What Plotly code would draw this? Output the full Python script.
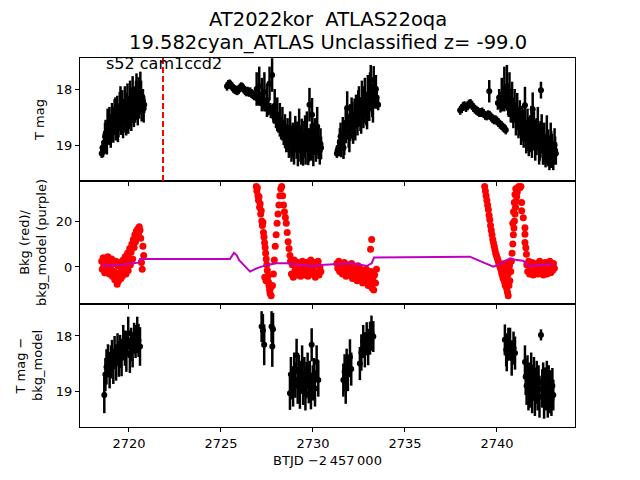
import plotly.graph_objects as go
from plotly.subplots import make_subplots

# ---------------- top panel: T mag (black points with error bars) ----------------
top_t_a = [2718.52, 2718.59, 2718.66, 2718.73, 2718.80, 2718.87, 2718.94, 2719.01, 2719.08, 2719.15,
           2719.22, 2719.29, 2719.36, 2719.43, 2719.50, 2719.57, 2719.64, 2719.71, 2719.78, 2719.85,
           2719.92, 2719.99, 2720.06, 2720.13, 2720.20, 2720.27, 2720.34, 2720.41, 2720.48, 2720.55,
           2720.62, 2720.69, 2720.76, 2720.83,
           2718.56, 2718.70, 2718.84, 2718.98, 2719.12, 2719.26, 2719.40, 2719.54, 2719.68, 2719.82,
           2719.96, 2720.10, 2720.24, 2720.38, 2720.52, 2720.66, 2720.80]
top_m_a = [19.15, 19.12, 18.95, 18.80, 18.95, 18.70, 18.62, 18.80, 18.55, 18.68,
           18.50, 18.62, 18.45, 18.58, 18.40, 18.52, 18.35, 18.48, 18.30, 18.55,
           18.25, 18.42, 18.20, 18.45, 18.15, 18.38, 18.28, 18.10, 18.35, 18.20,
           18.05, 18.30, 18.22, 18.28,
           19.05, 18.85, 18.65, 18.72, 18.62, 18.48, 18.65, 18.30, 18.58, 18.40,
           18.50, 18.32, 18.28, 18.20, 18.12, 18.15, 18.35]
top_e_a = [0.08, 0.10, 0.20, 0.25, 0.22, 0.28, 0.30, 0.25, 0.30, 0.28,
           0.32, 0.30, 0.33, 0.28, 0.35, 0.30, 0.33, 0.30, 0.35, 0.28,
           0.35, 0.30, 0.35, 0.30, 0.38, 0.30, 0.32, 0.38, 0.30, 0.33,
           0.36, 0.28, 0.22, 0.15,
           0.12, 0.25, 0.30, 0.28, 0.30, 0.33, 0.30, 0.35, 0.30, 0.33,
           0.30, 0.35, 0.33, 0.35, 0.33, 0.30, 0.25]

top_t_b = [2725.33, 2725.40, 2725.47, 2725.54, 2725.61, 2725.68, 2725.75, 2725.82, 2725.89, 2725.96,
           2726.03, 2726.10, 2726.17, 2726.24, 2726.31, 2726.38, 2726.45, 2726.52, 2726.59, 2726.66,
           2726.73, 2726.80,
           2726.87, 2726.94, 2727.01, 2727.08, 2727.15, 2727.22, 2727.29, 2727.36, 2727.43, 2727.50,
           2727.57, 2727.64, 2727.71, 2727.78, 2727.85, 2727.92, 2727.99, 2728.06, 2728.13, 2728.20,
           2728.27, 2728.34, 2728.41, 2728.48, 2728.55, 2728.62, 2728.69, 2728.76, 2728.83, 2728.90,
           2728.97, 2729.04, 2729.11, 2729.18, 2729.25, 2729.32, 2729.39, 2729.46, 2729.53, 2729.60,
           2729.67, 2729.74, 2729.81, 2729.88, 2729.95, 2730.02, 2730.09, 2730.16, 2730.23, 2730.30,
           2730.37, 2730.44,
           2727.05, 2727.26, 2727.47, 2727.68, 2727.89, 2728.10, 2728.31, 2728.52, 2728.73, 2728.94,
           2729.15, 2729.36, 2729.57, 2729.78, 2729.99, 2730.20, 2730.41]
top_m_b = [17.95, 17.92, 17.91, 17.93, 17.96, 17.99, 18.01, 18.02, 18.03, 18.01,
           17.98, 17.96, 17.97, 18.00, 18.03, 18.05, 18.04, 18.06, 18.05, 18.08,
           18.10, 18.12,
           18.12, 18.00, 18.18, 17.95, 18.22, 18.10, 18.25, 18.05, 18.30, 18.20,
           18.35, 17.90, 18.40, 17.75, 18.45, 18.30, 18.55, 18.45, 18.60, 18.55,
           18.70, 18.62, 18.78, 18.75, 18.88, 18.82, 18.95, 18.70, 19.00, 18.90,
           19.05, 18.80, 18.95, 19.10, 18.70, 19.00, 18.85, 19.12, 18.90, 19.05,
           18.75, 19.08, 18.28, 18.95, 18.46, 19.10, 18.85, 19.00, 18.67, 18.95,
           19.10, 19.05,
           18.15, 18.20, 18.28, 18.35, 18.50, 18.62, 18.72, 18.85, 18.92, 18.95,
           18.90, 19.05, 18.80, 19.00, 18.92, 18.85, 18.98]
top_e_b = [0.08, 0.08, 0.08, 0.08, 0.08, 0.08, 0.08, 0.08, 0.08, 0.08,
           0.08, 0.08, 0.08, 0.08, 0.08, 0.08, 0.08, 0.08, 0.08, 0.08,
           0.08, 0.08,
           0.08, 0.30, 0.08, 0.35, 0.08, 0.30, 0.10, 0.35, 0.10, 0.30,
           0.12, 0.30, 0.12, 0.30, 0.15, 0.30, 0.15, 0.30, 0.18, 0.30,
           0.20, 0.30, 0.22, 0.30, 0.25, 0.30, 0.28, 0.30, 0.30, 0.30,
           0.30, 0.32, 0.30, 0.28, 0.35, 0.30, 0.32, 0.25, 0.33, 0.30,
           0.35, 0.28, 0.30, 0.33, 0.30, 0.28, 0.33, 0.30, 0.35, 0.30,
           0.25, 0.20,
           0.08, 0.08, 0.10, 0.10, 0.12, 0.15, 0.18, 0.22, 0.28, 0.30,
           0.32, 0.30, 0.33, 0.30, 0.32, 0.33, 0.28]

top_t_c = [2731.30, 2731.38, 2731.46, 2731.54, 2731.62, 2731.70, 2731.78, 2731.86, 2731.94, 2732.02,
           2732.10, 2732.18, 2732.26, 2732.34, 2732.42, 2732.50, 2732.58, 2732.66, 2732.74, 2732.82,
           2732.90, 2732.98, 2733.06, 2733.14, 2733.22, 2733.30, 2733.38, 2733.46, 2733.54,
           2731.34, 2731.50, 2731.66, 2731.82, 2731.98, 2732.14, 2732.30, 2732.46, 2732.62, 2732.78,
           2732.94, 2733.10, 2733.26, 2733.42]
top_m_c = [19.15, 19.05, 18.95, 19.00, 18.80, 18.90, 18.65, 18.34, 18.75, 18.60,
           18.45, 18.70, 18.50, 18.40, 18.55, 18.30, 18.45, 18.20, 18.40, 18.15,
           18.35, 18.10, 18.25, 17.95, 18.20, 17.84, 18.05, 18.15, 18.28,
           19.10, 18.85, 19.05, 18.60, 18.85, 18.55, 18.62, 18.35, 18.50, 18.28,
           18.42, 18.05, 18.30, 18.00]
top_e_c = [0.08, 0.15, 0.25, 0.22, 0.30, 0.28, 0.32, 0.30, 0.30, 0.33,
           0.30, 0.28, 0.33, 0.30, 0.28, 0.35, 0.30, 0.35, 0.30, 0.35,
           0.30, 0.35, 0.32, 0.38, 0.30, 0.25, 0.30, 0.20, 0.10,
           0.10, 0.25, 0.20, 0.30, 0.28, 0.32, 0.30, 0.33, 0.30, 0.33,
           0.30, 0.35, 0.30, 0.25]

top_t_d = [2738.00, 2738.08, 2738.16, 2738.24, 2738.32, 2738.40, 2738.48, 2738.56, 2738.64, 2738.72,
           2738.80, 2738.88, 2738.96, 2739.04, 2739.12, 2739.20, 2739.28, 2739.36, 2739.44, 2739.52,
           2739.60, 2739.68, 2739.76, 2739.84, 2739.92, 2740.00, 2740.08, 2740.16, 2740.24, 2740.32,
           2740.40, 2740.48]
top_m_d = [18.38, 18.35, 18.31, 18.30, 18.33, 18.30, 18.27, 18.26, 18.29, 18.33,
           18.36, 18.38, 18.40, 18.42, 18.42, 18.41, 18.44, 18.47, 18.48, 18.46,
           18.47, 18.50, 18.53, 18.55, 18.55, 18.57, 18.60, 18.63, 18.65, 18.68,
           18.70, 18.73]
top_e_d = [0.08, 0.08, 0.08, 0.08, 0.08, 0.08, 0.08, 0.08, 0.08, 0.08,
           0.08, 0.08, 0.08, 0.08, 0.08, 0.08, 0.08, 0.08, 0.08, 0.08,
           0.08, 0.08, 0.08, 0.08, 0.08, 0.08, 0.08, 0.08, 0.08, 0.08,
           0.08, 0.08]

top_t_e = [2740.05, 2740.12, 2740.19, 2740.26, 2740.33, 2740.40, 2740.47, 2740.54, 2740.61, 2740.68,
           2740.75, 2740.82, 2740.89, 2740.96, 2741.03, 2741.10, 2741.17, 2741.24, 2741.31, 2741.38,
           2741.45, 2741.52, 2741.59, 2741.66, 2741.73, 2741.80, 2741.87, 2741.94, 2742.01, 2742.08,
           2742.15, 2742.22, 2742.29, 2742.36, 2742.43, 2742.50, 2742.57, 2742.64, 2742.71, 2742.78,
           2742.85, 2742.92, 2742.99, 2743.06, 2743.13, 2743.20,
           2740.64, 2740.85, 2741.06, 2741.27, 2741.48, 2741.69, 2741.90, 2742.11, 2742.32, 2742.53,
           2742.74, 2742.95, 2743.16]
top_m_e = [18.25, 18.15, 18.30, 18.10, 18.20, 18.00, 18.15, 17.95, 18.25, 18.05,
           18.35, 18.20, 18.45, 18.30, 18.55, 18.40, 18.60, 18.50, 18.70, 18.62,
           18.75, 18.29, 18.85, 18.70, 18.90, 18.80, 18.65, 18.36, 18.75, 19.00,
           18.85, 18.70, 19.05, 18.90, 18.80, 19.05, 18.95, 19.10, 18.85, 19.05,
           19.15, 18.95, 19.10, 19.20, 19.00, 19.15,
           18.35, 18.40, 18.50, 18.58, 18.65, 18.80, 18.90, 18.85, 18.95, 19.00,
           19.05, 19.08, 19.10]
top_e_e = [0.12, 0.15, 0.12, 0.30, 0.18, 0.40, 0.20, 0.38, 0.22, 0.35,
           0.25, 0.33, 0.25, 0.30, 0.28, 0.33, 0.28, 0.30, 0.30, 0.32,
           0.30, 0.33, 0.30, 0.35, 0.30, 0.33, 0.35, 0.30, 0.35, 0.28,
           0.33, 0.38, 0.30, 0.33, 0.35, 0.30, 0.35, 0.30, 0.38, 0.33,
           0.30, 0.35, 0.30, 0.25, 0.30, 0.20,
           0.15, 0.20, 0.22, 0.25, 0.28, 0.30, 0.33, 0.30, 0.33, 0.35,
           0.30, 0.33, 0.25]

top_t_out = [2739.58, 2742.39]
top_m_out = [18.04, 18.02]
top_e_out = [0.20, 0.15]

# ---------------- middle panel: background (red) and model (purple) ----------------
bkg_t_1 = [2718.52, 2718.55, 2718.60, 2718.63, 2718.68, 2718.72, 2718.76, 2718.80, 2718.85, 2718.88,
           2718.93, 2718.97, 2719.02, 2719.06, 2719.10, 2719.15, 2719.19, 2719.23, 2719.28, 2719.32,
           2719.36, 2719.40, 2719.44, 2719.48, 2719.52, 2719.56, 2719.60, 2719.64, 2719.68, 2719.72,
           2719.76, 2719.80, 2719.84, 2719.88, 2719.92, 2719.96, 2720.00, 2720.04, 2720.08, 2720.12,
           2720.16, 2720.20, 2720.24, 2720.28, 2720.32, 2720.36, 2720.40, 2720.44, 2720.48, 2720.52,
           2720.56, 2720.60, 2720.64, 2720.68, 2720.72, 2720.76, 2720.80]
bkg_v_1 = [2.5, -1.0, 4.0, 0.5, -2.5, 3.0, 1.0, -1.5, 4.5, 0.0,
           -3.0, 2.0, -1.0, 3.5, -4.0, 1.5, -2.0, -5.5, 2.5, -3.5,
           -7.5, 0.5, -6.0, -2.5, 2.0, -5.0, -1.0, -4.0, 3.0, -2.0,
           0.5, 4.5, -3.0, 2.5, 6.0, -1.5, 4.0, 8.0, 1.0, 6.5,
           10.0, 3.5, 12.0, 8.5, 14.0, 11.0, 15.5, 13.0, 16.5, 14.5,
           17.5, 16.0, 12.5, 2.0, -1.0, 9.0, 5.0]

bkg_t_2 = [2726.92, 2726.95, 2726.98, 2727.01, 2727.04, 2727.07, 2727.10, 2727.13, 2727.16, 2727.19,
           2727.22, 2727.25, 2727.28, 2727.31, 2727.34, 2727.37, 2727.40, 2727.43, 2727.46, 2727.49,
           2727.52, 2727.55, 2727.58, 2727.61, 2727.64, 2727.67, 2727.70, 2727.73, 2727.38, 2727.45,
           2727.80, 2727.85, 2727.90, 2727.95, 2728.00, 2728.05, 2728.10, 2728.15, 2728.20, 2728.25,
           2728.30, 2728.35, 2728.40, 2728.45, 2728.50, 2728.55, 2728.60, 2728.65, 2728.70, 2728.75,
           2728.78, 2728.83, 2728.88, 2728.93, 2728.98, 2729.03, 2729.08, 2729.13, 2729.18, 2729.23,
           2729.28, 2729.33, 2729.38, 2729.43, 2729.48, 2729.53, 2729.58, 2729.63, 2729.68, 2729.73,
           2729.78, 2729.83, 2729.88, 2729.93, 2729.98, 2730.03, 2730.08, 2730.13, 2730.18, 2730.23,
           2730.28, 2730.33, 2730.38, 2730.43]
bkg_v_2 = [35.0, 33.0, 34.5, 31.0, 29.0, 30.5, 26.0, 27.5, 23.0, 24.5,
           20.0, 18.0, 19.5, 15.0, 13.0, 10.5, 8.5, 6.0, 3.5, 1.0,
           -1.5, -4.0, -6.5, -8.0, -10.0, -11.5, -9.0, -12.5, -4.5, -6.0,
           -8.0, -3.0, 3.0, 9.0, 14.0, 19.0, 23.0, 27.0, 31.0, 34.0,
           35.0, 31.0, 27.0, 24.0, 21.5, 19.0, 15.0, 11.0, 8.0, 5.0,
           2.5, -3.0, 1.0, -4.5, 3.0, -1.5, 0.5, -3.5, 2.0, -2.0,
           1.5, -4.0, 0.0, 2.5, -2.5, 1.0, -3.5, 2.0, -1.0, -4.0,
           1.5, -2.0, 3.0, -3.0, 0.5, -1.5, 2.0, -4.5, 1.0, -2.5,
           2.5, -3.5, 0.0, -2.0]

bkg_t_3 = [2731.30, 2731.35, 2731.40, 2731.45, 2731.50, 2731.55, 2731.60, 2731.65, 2731.70, 2731.75,
           2731.80, 2731.85, 2731.90, 2731.95, 2732.00, 2732.05, 2732.10, 2732.15, 2732.20, 2732.25,
           2732.30, 2732.35, 2732.40, 2732.45, 2732.50, 2732.55, 2732.60, 2732.65, 2732.70, 2732.75,
           2732.80, 2732.85, 2732.90, 2732.95, 2733.00, 2733.05, 2733.10, 2733.15, 2733.20, 2733.25,
           2733.30, 2733.35, 2733.40, 2733.45, 2733.13, 2733.19]
bkg_v_3 = [1.5, -0.5, 2.5, -2.0, 0.5, 1.5, -3.0, 0.0, 2.0, -1.5,
           -4.0, 1.0, -2.5, 0.5, -3.5, -1.0, 1.5, -5.0, -2.0, 0.0,
           -4.0, -1.5, -6.0, 0.5, -3.0, -5.5, -1.0, -4.5, -7.0, -2.0,
           -3.5, -6.0, -1.0, -4.5, -8.0, -3.0, -6.5, -2.0, -9.0, -5.0,
           -10.0, -3.5, -7.0, -1.0, 7.7, 12.0]

bkg_t_4 = [2739.33, 2739.37, 2739.41, 2739.45, 2739.49, 2739.53, 2739.57, 2739.61, 2739.65, 2739.69,
           2739.73, 2739.77, 2739.81, 2739.85, 2739.89, 2739.93, 2739.97, 2740.01, 2740.05, 2740.09,
           2740.13, 2740.17, 2740.21, 2740.25, 2740.29, 2740.33, 2740.37, 2740.41, 2740.45, 2740.49,
           2740.53, 2740.57, 2740.61, 2740.55, 2740.45, 2740.40, 2740.50, 2740.60, 2740.65, 2740.70,
           2740.75, 2740.68, 2740.58,
           2740.78, 2740.82, 2740.86, 2740.89, 2740.92, 2740.95, 2740.98, 2741.01, 2741.04, 2741.07,
           2741.10, 2741.13, 2741.18, 2741.24, 2741.30, 2740.86, 2740.90, 2740.94, 2740.98, 2741.02,
           2741.34, 2741.34, 2741.43, 2741.52, 2741.52, 2741.52, 2741.57, 2741.60,
           2741.62, 2741.67, 2741.72, 2741.77, 2741.82, 2741.87, 2741.92, 2741.97, 2742.02, 2742.07,
           2742.12, 2742.17, 2742.22, 2742.27, 2742.32, 2742.37, 2742.42, 2742.47, 2742.52, 2742.57,
           2742.62, 2742.67, 2742.72, 2742.77, 2742.82, 2742.87, 2742.92, 2742.97, 2743.02, 2743.07,
           2743.12]
bkg_v_4 = [35.0, 33.0, 31.0, 29.0, 27.0, 25.0, 22.5, 20.5, 18.0, 16.0,
           14.0, 12.0, 10.5, 9.0, 7.5, 6.0, 5.0, 4.0, 3.0, 2.0,
           1.0, 0.0, -1.0, -2.5, -3.5, -5.0, -4.0, -6.5, -8.0, -7.0,
           -9.5, -11.0, -12.5, -5.0, -2.0, 1.5, -1.0, -3.0, -8.0, -6.0,
           -2.0, 0.5, 2.0,
           2.5, 6.0, 10.0, 14.0, 17.0, 20.0, 23.0, 26.0, 28.5, 30.5,
           32.5, 34.5, 35.0, 34.5, 35.0, 19.0, 24.0, 28.0, 31.5, 34.0,
           28.0, 24.5, 21.4, 17.1, 14.2, 10.6, 8.4, 5.5,
           1.0, -2.0, 2.5, -3.0, 0.0, -1.5, 2.0, -3.5, 1.0, -0.5,
           -2.5, 1.5, -3.0, 0.5, 2.5, -2.0, -1.0, 1.5, -3.5, 0.0,
           2.0, -1.5, -3.0, 1.0, -0.5, 2.5, -2.5, 0.5, -1.5, 1.5,
           -0.5]

model_t = [2718.52, 2719.51, 2720.23, 2720.51, 2720.60, 2725.49, 2725.71, 2725.85, 2725.99, 2726.30,
           2726.58, 2726.94, 2727.48, 2728.03, 2728.57, 2729.29, 2730.02, 2730.38, 2731.29, 2732.19,
           2732.92, 2733.19, 2733.32, 2738.26, 2738.53, 2738.80, 2739.35, 2739.80, 2740.25, 2740.71,
           2741.07, 2741.43, 2741.70, 2742.34, 2743.06]
model_v = [0.4, 0.9, 1.6, 1.9, 3.5, 3.5, 6.2, 5.2, 3.0, 0.4,
           -2.0, -0.6, 0.9, 1.6, 1.6, 0.9, 0.4, 0.9, 1.3, 1.6,
           0.4, 1.6, 4.1, 4.2, 4.5, 3.5, 1.6, 0.1, 1.6, 3.8,
           3.0, 2.7, 0.4, 0.9, 1.3]

# ---------------- bottom panel: T mag - bkg_model ----------------
sub_t_1 = [2718.66, 2718.72, 2718.78, 2718.86, 2718.95, 2719.02, 2719.08, 2719.15, 2719.22, 2719.30,
           2719.38, 2719.45, 2719.52, 2719.60, 2719.69, 2719.78, 2719.86, 2719.96, 2720.05, 2720.12,
           2720.20, 2720.28, 2720.36, 2720.45, 2720.52, 2720.60]
sub_m_1 = [19.07, 18.70, 18.56, 18.45, 18.62, 18.47, 18.35, 18.55, 18.30, 18.48,
           18.25, 18.42, 18.28, 18.40, 18.10, 18.22, 18.30, 17.95, 18.35, 18.15,
           18.25, 18.04, 18.10, 17.98, 18.08, 18.19]
sub_e_1 = [0.33, 0.30, 0.32, 0.30, 0.33, 0.30, 0.28, 0.32, 0.30, 0.33,
           0.30, 0.32, 0.30, 0.33, 0.30, 0.32, 0.35, 0.30, 0.32, 0.30,
           0.32, 0.28, 0.30, 0.33, 0.30, 0.35]

sub_t_2 = [2727.21, 2727.28, 2727.35, 2727.75, 2727.79, 2727.83]
sub_m_2 = [17.83, 17.90, 18.16, 17.83, 18.19, 17.88]
sub_e_2 = [0.28, 0.30, 0.37, 0.28, 0.37, 0.30]

sub_t_3 = [2728.75, 2728.80, 2728.86, 2728.92, 2728.98, 2729.04, 2729.11, 2729.17, 2729.23, 2729.29,
           2729.35, 2729.41, 2729.47, 2729.53, 2729.59, 2729.65, 2729.71, 2729.77, 2729.83, 2729.89,
           2729.93, 2729.99, 2730.05, 2730.11, 2730.20, 2730.29]
sub_m_3 = [19.04, 18.70, 18.85, 18.95, 18.60, 18.80, 18.35, 18.90, 18.65, 19.00,
           18.75, 18.50, 18.95, 18.70, 19.05, 18.80, 18.60, 18.90, 18.75, 19.00,
           18.16, 18.85, 18.70, 18.95, 18.47, 18.80]
sub_e_3 = [0.30, 0.32, 0.30, 0.33, 0.30, 0.32, 0.30, 0.33, 0.30, 0.32,
           0.30, 0.33, 0.30, 0.32, 0.30, 0.33, 0.30, 0.32, 0.30, 0.33,
           0.30, 0.32, 0.30, 0.33, 0.30, 0.30]

sub_t_4 = [2731.65, 2731.72, 2731.78, 2731.83, 2731.90, 2732.01, 2732.08, 2732.55, 2732.63, 2732.73,
           2732.82, 2732.92, 2733.00, 2733.10, 2733.18, 2733.28]
sub_m_4 = [18.80, 18.65, 18.95, 18.56, 18.70, 18.38, 18.60, 18.50, 18.30, 18.10,
           18.25, 18.05, 18.20, 18.04, 17.95, 18.01]
sub_e_4 = [0.30, 0.32, 0.28, 0.33, 0.30, 0.32, 0.30, 0.30, 0.33, 0.30,
           0.32, 0.30, 0.33, 0.30, 0.32, 0.28]

sub_t_5 = [2740.43, 2740.50, 2740.53, 2740.62, 2740.71, 2740.80, 2740.90, 2740.98]
sub_m_5 = [18.07, 18.25, 18.31, 18.15, 18.13, 18.40, 18.22, 18.31]
sub_e_5 = [0.28, 0.30, 0.33, 0.30, 0.28, 0.32, 0.30, 0.30]

sub_t_6 = [2741.52, 2741.56, 2741.61, 2741.66, 2741.71, 2741.76, 2741.81, 2741.86, 2741.91, 2741.96,
           2742.01, 2742.06, 2742.11, 2742.16, 2742.21, 2742.26, 2742.31, 2742.46, 2742.51, 2742.56,
           2742.61, 2742.66, 2742.71, 2742.76, 2742.81, 2742.86, 2742.91, 2742.96, 2743.01, 2743.06,
           2742.39]
sub_m_6 = [18.47, 18.74, 18.90, 18.65, 19.00, 18.80, 18.95, 18.60, 19.05, 18.85,
           18.70, 19.10, 18.90, 18.75, 19.00, 18.85, 19.10, 18.95, 18.80, 19.15,
           18.90, 19.00, 18.75, 19.10, 18.85, 19.05, 18.95, 19.15, 18.90, 19.07,
           17.98]
sub_e_6 = [0.30, 0.33, 0.35, 0.30, 0.35, 0.32, 0.35, 0.30, 0.35, 0.33,
           0.32, 0.35, 0.33, 0.30, 0.35, 0.32, 0.38, 0.35, 0.32, 0.35,
           0.33, 0.35, 0.30, 0.38, 0.32, 0.35, 0.33, 0.30, 0.32, 0.28,
           0.10]

event_line = 2721.85
label_text = "s52 cam1ccd2"
title_1 = "AT2022kor\u00a0\u00a0ATLAS22oqa"
title_2 = "19.582cyan_ATLAS Unclassified z= -99.0"

top_t = top_t_a + top_t_b + top_t_c + top_t_d + top_t_e + top_t_out
top_m = top_m_a + top_m_b + top_m_c + top_m_d + top_m_e + top_m_out
top_e = top_e_a + top_e_b + top_e_c + top_e_d + top_e_e + top_e_out

bkg_t = bkg_t_1 + bkg_t_2 + bkg_t_3 + bkg_t_4
bkg_v = bkg_v_1 + bkg_v_2 + bkg_v_3 + bkg_v_4

sub_t = sub_t_1 + sub_t_2 + sub_t_3 + sub_t_4 + sub_t_5 + sub_t_6
sub_m = sub_m_1 + sub_m_2 + sub_m_3 + sub_m_4 + sub_m_5 + sub_m_6
sub_e = sub_e_1 + sub_e_2 + sub_e_3 + sub_e_4 + sub_e_5 + sub_e_6

FONT = "DejaVu Sans"

fig = make_subplots(rows=3, cols=1, shared_xaxes=True, vertical_spacing=0)

err_style = dict(type="data", thickness=2.5, width=0, color="black")

fig.add_trace(go.Scatter(x=top_t, y=top_m, mode="markers",
                         marker=dict(color="black", size=6),
                         error_y=dict(array=top_e, **err_style)), row=1, col=1)

fig.add_trace(go.Scatter(x=bkg_t, y=bkg_v, mode="markers",
                         marker=dict(color="red", size=7)), row=2, col=1)
fig.add_trace(go.Scatter(x=model_t, y=model_v, mode="lines",
                         line=dict(color="#bf00bf", width=2)), row=2, col=1)

fig.add_trace(go.Scatter(x=sub_t, y=sub_m, mode="markers",
                         marker=dict(color="black", size=6),
                         error_y=dict(array=sub_e, **err_style)), row=3, col=1)

# vertical dashed marker in the top panel
fig.add_shape(type="line", x0=event_line, x1=event_line, y0=0, y1=1,
              xref="x", yref="y domain", line=dict(color="red", width=2, dash="6px,3px"))

fig.add_annotation(x=2718.62, y=17.55, xref="x", yref="y", text=label_text, showarrow=False,
                   xanchor="left", yanchor="middle", font=dict(family=FONT, size=16, color="black"))

fig.add_annotation(x=0.5, y=1.103, xref="paper", yref="paper", text=title_1, showarrow=False,
                   xanchor="center", yanchor="middle", font=dict(family=FONT, size=19.5, color="black"))
fig.add_annotation(x=0.5, y=1.041, xref="paper", yref="paper", text=title_2, showarrow=False,
                   xanchor="center", yanchor="middle", font=dict(family=FONT, size=19.5, color="black"))

axis_common = dict(showline=True, mirror=True, linecolor="black", linewidth=1,
                   showgrid=False, zeroline=False, ticks="outside", ticklen=4,
                   tickcolor="black", tickfont=dict(family=FONT, size=13, color="black"))

for i in (1, 2, 3):
    fig.update_xaxes(range=[2717.34, 2744.24], row=i, col=1, **axis_common)
fig.update_xaxes(tickvals=[2720, 2725, 2730, 2735, 2740], row=3, col=1,
                 title=dict(text="BTJD \u22122\u2009457\u2009000", standoff=6,
                            font=dict(family=FONT, size=13, color="black")))

fig.update_yaxes(range=[19.643, 17.446], tickvals=[18, 19], row=1, col=1,
                 title=dict(text="T mag", standoff=8, font=dict(family=FONT, size=13, color="black")),
                 **axis_common)
fig.update_yaxes(range=[-16.1, 37.4], tickvals=[0, 20], row=2, col=1,
                 title=dict(text="Bkg (red)/<br>bkg_model (purple)", standoff=6,
                            font=dict(family=FONT, size=13, color="black")),
                 **axis_common)
fig.update_yaxes(range=[19.65, 17.42], tickvals=[18, 19], row=3, col=1,
                 title=dict(text="T mag \u2212<br>bkg_model", standoff=10,
                            font=dict(family=FONT, size=13, color="black")),
                 **axis_common)

# the page body adds an 8px offset, so the margins are shifted to keep the plot box in place
fig.update_layout(width=640, height=480, showlegend=False,
                  margin=dict(l=72, r=73, t=50, b=61),
                  plot_bgcolor="white", paper_bgcolor="white",
                  font=dict(family=FONT, color="black"))

fig.write_html("out.html")
